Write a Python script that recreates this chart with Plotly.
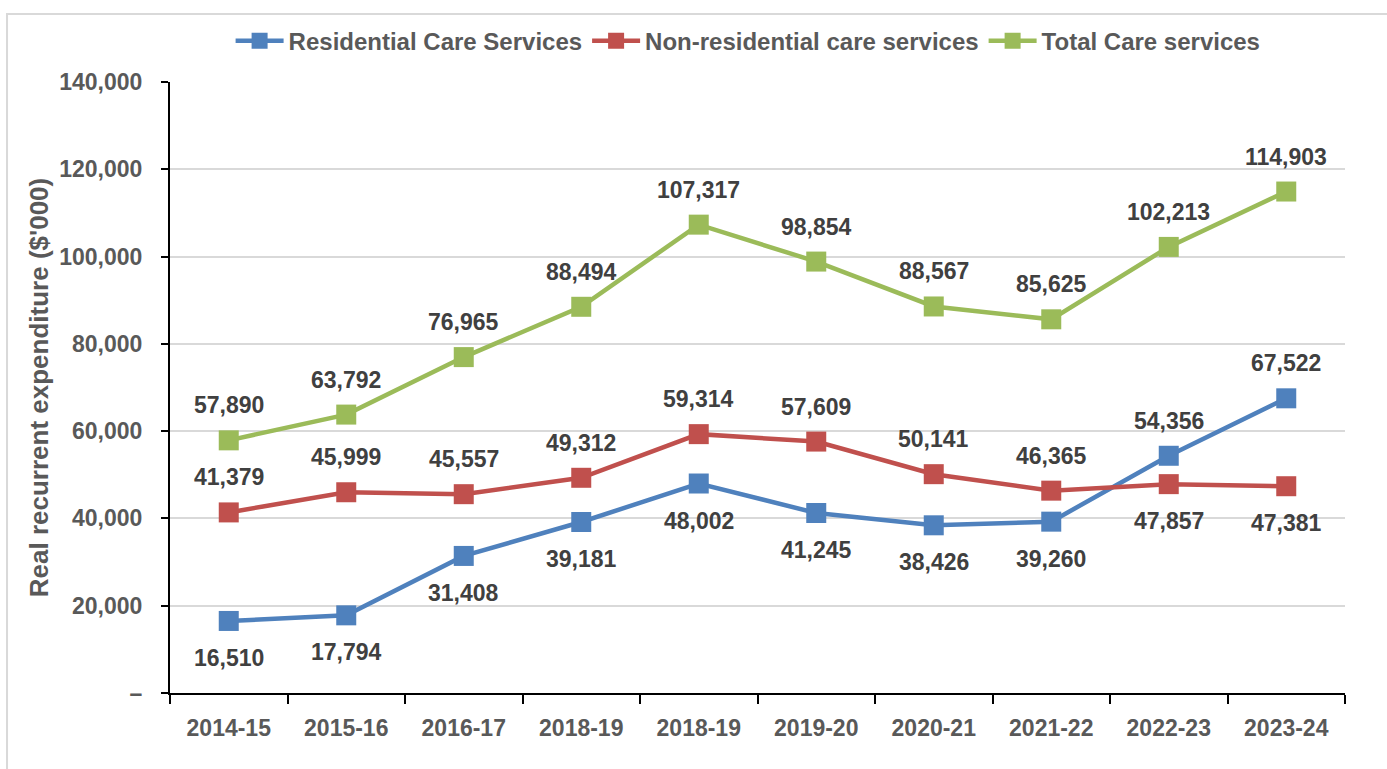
import plotly.graph_objects as go

# Financial years shown on the horizontal axis
periods = ["2014-15", "2015-16", "2016-17", "2018-19", "2018-19",
           "2019-20", "2020-21", "2021-22", "2022-23", "2023-24"]

# Real recurrent expenditure ($'000)
residential = [16510, 17794, 31408, 39181, 48002, 41245, 38426, 39260, 54356, 67522]
non_residential = [41379, 45999, 45557, 49312, 59314, 57609, 50141, 46365, 47857, 47381]
total = [57890, 63792, 76965, 88494, 107317, 98854, 88567, 85625, 102213, 114903]

# Which side of each point its value label sits on
residential_side = ["below"] * 8 + ["above"] * 2
non_residential_side = ["above"] * 8 + ["below"] * 2
total_side = ["above"] * 10

y_ticks = [0, 20000, 40000, 60000, 80000, 100000, 120000, 140000]

FONT = "Liberation Sans, Arial, sans-serif"
TICK_GREY = "#595959"
LABEL_GREY = "#404040"

series = [
    ("Residential Care Services", residential, residential_side, "#4F81BD"),
    ("Non-residential care services", non_residential, non_residential_side, "#C0504D"),
    ("Total Care services", total, total_side, "#9BBB59"),
]

x_pos = list(range(len(periods)))

fig = go.Figure()
annotations = []
for name, values, sides, color in series:
    fig.add_trace(go.Scatter(
        x=x_pos, y=values, name=name, mode="lines+markers",
        line=dict(color=color, width=4.5),
        marker=dict(symbol="square", size=20, color=color),
        cliponaxis=False,
    ))
    for xi, v, side in zip(x_pos, values, sides):
        annotations.append(dict(
            x=xi, y=v, xref="x", yref="y", text=f"{v:,}", showarrow=False,
            yshift=35 if side == "above" else -37,
            font=dict(family=FONT, size=23, color=LABEL_GREY, weight="bold"),
        ))

fig.update_layout(
    width=1387, height=769,
    margin=dict(l=170, r=42, t=82, b=76),
    paper_bgcolor="white", plot_bgcolor="white",
    font=dict(family=FONT, color=TICK_GREY),
    showlegend=True,
    legend=dict(
        orientation="h", x=0.492, xanchor="center", y=1.067, yanchor="middle",
        font=dict(family=FONT, size=24, color=TICK_GREY, weight="bold"),
        itemwidth=48, traceorder="normal",
    ),
    annotations=annotations,
    shapes=[dict(
        type="rect", xref="paper", yref="paper",
        x0=-0.1387, x1=1.2, y0=-0.3, y1=1.1113,
        line=dict(color="#D9D9D9", width=2), fillcolor="rgba(0,0,0,0)",
        layer="below",
    )],
)

fig.update_xaxes(
    range=[-0.5, len(periods) - 0.5],
    tickmode="array", tickvals=x_pos, ticktext=periods,
    ticks="", showgrid=False, zeroline=False,
    showline=True, linecolor="black", linewidth=2,
    tickfont=dict(family=FONT, size=23, color=TICK_GREY, weight="bold"),
    ticklabelstandoff=13,
    minor=dict(
        tickmode="array", tickvals=[i - 0.5 for i in range(len(periods) + 1)],
        ticks="outside", ticklen=9, tickwidth=2, tickcolor="black", showgrid=False,
    ),
)

fig.update_yaxes(
    range=[0, 140000],
    tickmode="array", tickvals=y_ticks,
    ticktext=["–" if v == 0 else f"{v:,}" for v in y_ticks],
    ticks="outside", ticklen=7, tickwidth=2, tickcolor="black",
    showgrid=True, gridcolor="#D9D9D9", gridwidth=2,
    zeroline=False, showline=True, linecolor="black", linewidth=2,
    tickfont=dict(family=FONT, size=23, color=TICK_GREY, weight="bold"),
    ticklabelstandoff=14,
    title=dict(
        text="Real recurrent expenditure ($'000)", standoff=3,
        font=dict(family=FONT, size=26, color=TICK_GREY, weight="bold"),
    ),
)

fig.write_html("out.html")
